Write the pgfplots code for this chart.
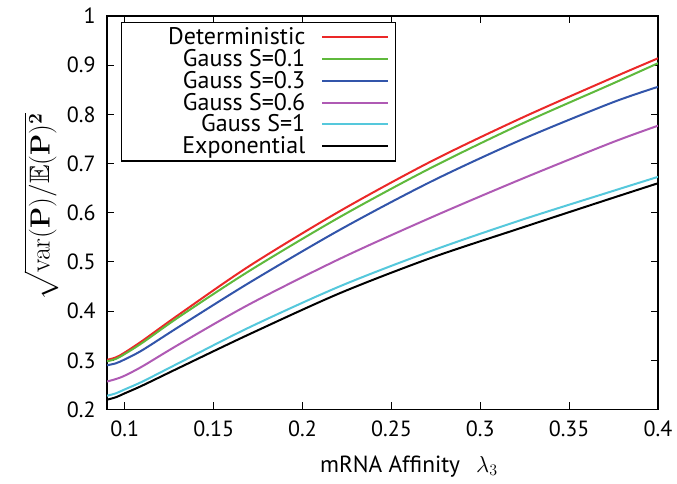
\documentclass[border=0pt]{standalone}
\usepackage{amssymb}
\usepackage[no-math]{fontspec}
\setmainfont{PT Sans}
\usepackage{pgfplots}
\pgfplotsset{compat=1.18}
\definecolor{cRed}{RGB}{235,40,40}
\definecolor{cGreen}{RGB}{95,185,60}
\definecolor{cBlue}{RGB}{50,85,170}
\definecolor{cPurple}{RGB}{175,90,180}
\definecolor{cCyan}{RGB}{85,200,220}
\newcommand{\gap}{\rule{10pt}{0pt}}
\begin{document}
\begin{tikzpicture}
\begin{axis}[
  scale only axis,
  width=413pt, height=295pt,
  xmin=0.09, xmax=0.4, ymin=0.2, ymax=1,
  xtick={0.1,0.15,0.2,0.25,0.3,0.35,0.4},
  ytick={0.2,0.3,0.4,0.5,0.6,0.7,0.8,0.9,1},
  xticklabels={0.1,0.15,0.2,0.25,0.3,0.35,0.4},
  yticklabels={0.2,0.3,0.4,0.5,0.6,0.7,0.8,0.9,1},
  tick label style={font=\fontsize{16.5}{18}\selectfont},
  xticklabel style={yshift=-5pt},
  yticklabel style={xshift=-5pt},
  major tick length=5.5pt,
  tick style={black, line width=0.8pt},
  axis line style={line width=1pt},
  xlabel={mRNA Affinity\hspace{12pt}$\lambda_3$},
  xlabel style={font=\fontsize{17.5}{19}\selectfont, at={(axis description cs:0.548,-0.145)}, anchor=center},
  ylabel={$\sqrt{\mathrm{var}(\mathbf{P})/\mathbb{E}(\mathbf{P})^{\mathbf{2}}}$},
  ylabel style={font=\fontsize{21}{23}\selectfont, at={(axis description cs:-0.12,0.515)}, anchor=center},
  legend style={at={(0.025,0.985)}, anchor=north west, draw=black, line width=1pt,
    font=\fontsize{18}{19}\selectfont, cells={anchor=east}, legend plot pos=right,
    inner xsep=5pt, inner ysep=2pt, row sep=-2pt},
  legend image code/.code={\draw[#1, line width=1.5pt] (0pt,0pt) -- (49pt,0pt);},
  every axis plot/.append style={line width=1.5pt, smooth},
]
\addplot[cRed] coordinates {(0.09,0.301)(0.095,0.306)(0.1,0.316)(0.11,0.340)(0.1312,0.395)(0.1706,0.493)(0.2213,0.604)(0.2721,0.704)(0.3228,0.792)(0.3735,0.873)(0.4,0.914)};
\addlegendentry{\hspace{28pt}Deterministic\gap}
\addplot[cGreen] coordinates {(0.09,0.298)(0.095,0.303)(0.1,0.313)(0.11,0.336)(0.1312,0.390)(0.1706,0.483)(0.2213,0.592)(0.2721,0.691)(0.3228,0.780)(0.3735,0.861)(0.4,0.904)};
\addlegendentry{Gauss S=0.1\gap}
\addplot[cBlue] coordinates {(0.09,0.290)(0.095,0.294)(0.1,0.302)(0.11,0.321)(0.1312,0.370)(0.1706,0.459)(0.2213,0.566)(0.2721,0.663)(0.3228,0.748)(0.3735,0.823)(0.4,0.856)};
\addlegendentry{Gauss S=0.3\gap}
\addplot[cPurple] coordinates {(0.09,0.257)(0.095,0.262)(0.1,0.269)(0.11,0.288)(0.1312,0.334)(0.1706,0.415)(0.2213,0.507)(0.2721,0.590)(0.3228,0.668)(0.3735,0.742)(0.4,0.777)};
\addlegendentry{Gauss S=0.6\gap}
\addplot[cCyan] coordinates {(0.09,0.228)(0.095,0.233)(0.1,0.241)(0.11,0.257)(0.1312,0.296)(0.1706,0.368)(0.2213,0.451)(0.2721,0.522)(0.3228,0.585)(0.3735,0.643)(0.4,0.673)};
\addlegendentry{Gauss S=1\gap}
\addplot[black] coordinates {(0.09,0.220)(0.095,0.225)(0.1,0.233)(0.11,0.249)(0.1312,0.286)(0.1706,0.354)(0.2213,0.437)(0.2721,0.508)(0.3228,0.569)(0.3735,0.629)(0.4,0.660)};
\addlegendentry{Exponential\gap}
\end{axis}
\pgfresetboundingbox
\path[use as bounding box] ([shift={(-80.25pt,-55.5pt)}]current axis.south west) rectangle ([shift={(14.25pt,12pt)}]current axis.north east);
\end{tikzpicture}
\end{document}
